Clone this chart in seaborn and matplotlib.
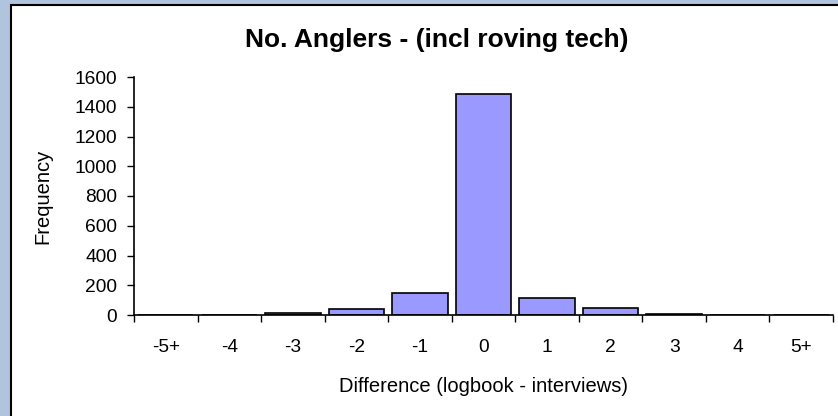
import matplotlib
matplotlib.use("Agg")
import matplotlib.pyplot as plt
import seaborn as sns
import pandas as pd
from matplotlib.patches import Rectangle

categories = ["-5+", "-4", "-3", "-2", "-1", "0", "1", "2", "3", "4", "5+"]
frequency = [0, 0, 12, 38, 150, 1485, 117, 47, 10, 0, 0]

sns.set_style("white")
plt.rcParams['font.family'] = ['Liberation Sans', 'DejaVu Sans']
plt.rcParams['text.color'] = 'black'
plt.rcParams['axes.labelcolor'] = 'black'
plt.rcParams['xtick.color'] = 'black'
plt.rcParams['ytick.color'] = 'black'

fig = plt.figure(figsize=(8.38, 4.16), dpi=100)
fig.patch.set_facecolor('#b0c4de')
bg = Rectangle((11/838, -0.05), 1.0, 1 - 5/416 + 0.05, transform=fig.transFigure,
               facecolor='white', edgecolor='black', linewidth=1.5, zorder=-10)
fig.patches.append(bg)

ax = fig.add_axes([134/838, 1-315/416, (833-134)/838, (315-77)/416])
ax.set_zorder(5)
df = pd.DataFrame({"cat": categories, "freq": frequency})
sns.barplot(data=df, x="cat", y="freq", color='#9999ff', saturation=1, width=0.87,
            edgecolor='black', linewidth=1.2, ax=ax)
ax.set_facecolor('white')
ax.set_ylim(0, 1600)
ax.set_yticks(range(0, 1601, 200))
ax.set_xlim(-0.5, len(categories) - 0.5)
ax.set_xticks([i for i in range(len(categories))])
ax.set_xticklabels(categories)
ax.set_xticks([i - 0.5 for i in range(len(categories) + 1)], minor=True)
ax.tick_params(axis='x', which='major', bottom=True, length=0, pad=17, labelsize=13.8)
ax.tick_params(axis='x', which='minor', bottom=True, length=5, width=1, color='black', direction='out')
ax.tick_params(axis='y', left=True, length=5, width=1, color='black', direction='out', labelsize=13.8, pad=7)
for s in ['top', 'right']:
    ax.spines[s].set_visible(False)
for s in ['left', 'bottom']:
    ax.spines[s].set_color('black')
    ax.spines[s].set_linewidth(1.2)
ax.set_xlabel("Difference (logbook - interviews)", fontsize=14.5)
ax.xaxis.set_label_coords(0.5, 1 - (386 - 77) / 238)
ax.xaxis.label.set_va('center')
ax.set_ylabel("Frequency", fontsize=14.5)
ax.yaxis.set_label_coords((43 - 134) / 699, 0.5)
ax.yaxis.label.set_va('center')
fig.text(437/838, 1 - 40/416, "No. Anglers - (incl roving tech)", ha='center', va='center',
         fontsize=19, fontweight='bold', zorder=10)
fig.savefig("out.png", dpi=100, facecolor=fig.get_facecolor())
